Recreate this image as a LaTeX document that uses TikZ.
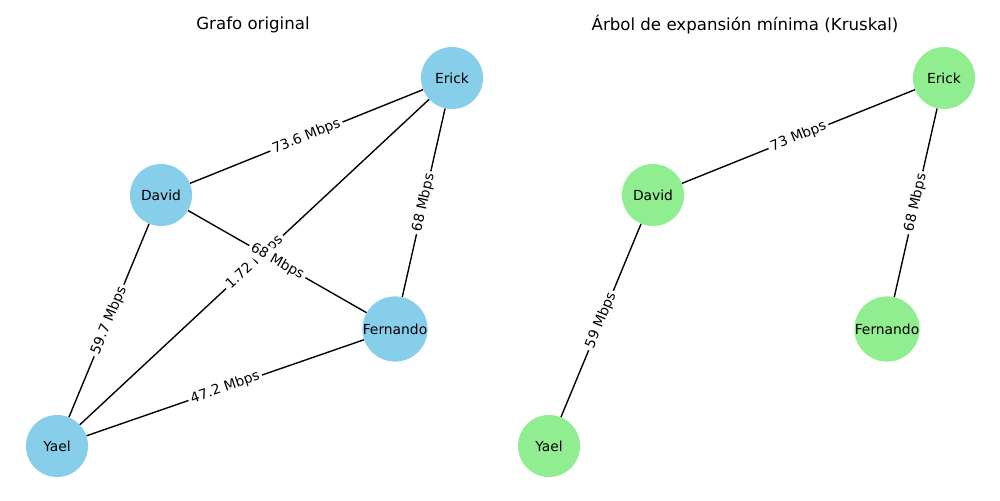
\documentclass[tikz,border=0pt]{standalone}
\usepackage{fontspec}
\setmainfont{DejaVu Sans}
\usepackage{xcolor}
\usepackage{tikz}
\definecolor{skyblue}{HTML}{87CEEB}
\definecolor{lightgreen}{HTML}{90EE90}
\tikzset{
  person/.style={circle, minimum size=0.62in, inner sep=0pt, font=\fontsize{10}{12}\selectfont},
  orig/.style={person, fill=skyblue},
  tree/.style={person, fill=lightgreen},
  edge/.style={line width=1pt},
  lbl/.style={midway, sloped, fill=white, inner sep=2pt, rounded corners=2pt, font=\fontsize{10}{12}\selectfont},
  title/.style={font=\fontsize{12}{14}\selectfont}
}
\begin{document}
\begin{tikzpicture}[x=0.01in,y=-0.01in]
\useasboundingbox (0,0) rectangle (1000,500);
\node[title] (t1) at (253,25) {Grafo original};
\node[title] (t2) at (745,25) {Árbol de expansión mínima (Kruskal)};

\node[orig] (e1) at (452,78) {Erick};
\node[orig] (d1) at (161,195) {David};
\node[orig] (f1) at (395,329) {Fernando};
\node[orig] (y1) at (57,446) {Yael};
\draw[edge] (d1) -- (e1);
\draw[edge] (e1) -- (f1);
\draw[edge] (d1) -- (f1);
\draw[edge] (e1) -- (y1);
\draw[edge] (d1) -- (y1);
\draw[edge] (f1) -- (y1);
\path (d1) -- (e1) node[lbl] (de1) {73.6 Mbps};
\path (e1) -- (f1) node[lbl] (ef1) {68 Mbps};
\path (e1) -- (y1) node[lbl] (ey1) {1.72 Mbps};
\path (d1) -- (f1) node[lbl] (df1) {68 Mbps};
\path (d1) -- (y1) node[lbl] (dy1) {59.7 Mbps};
\path (f1) -- (y1) node[lbl] (fy1) {47.2 Mbps};

\node[tree] (e2) at (944,78) {Erick};
\node[tree] (d2) at (653,195) {David};
\node[tree] (f2) at (887,329) {Fernando};
\node[tree] (y2) at (549,446) {Yael};
\draw[edge] (d2) -- (e2);
\draw[edge] (e2) -- (f2);
\draw[edge] (d2) -- (y2);
\path (d2) -- (e2) node[lbl] (de2) {73 Mbps};
\path (e2) -- (f2) node[lbl] (ef2) {68 Mbps};
\path (d2) -- (y2) node[lbl] (dy2) {59 Mbps};
\end{tikzpicture}
\end{document}
